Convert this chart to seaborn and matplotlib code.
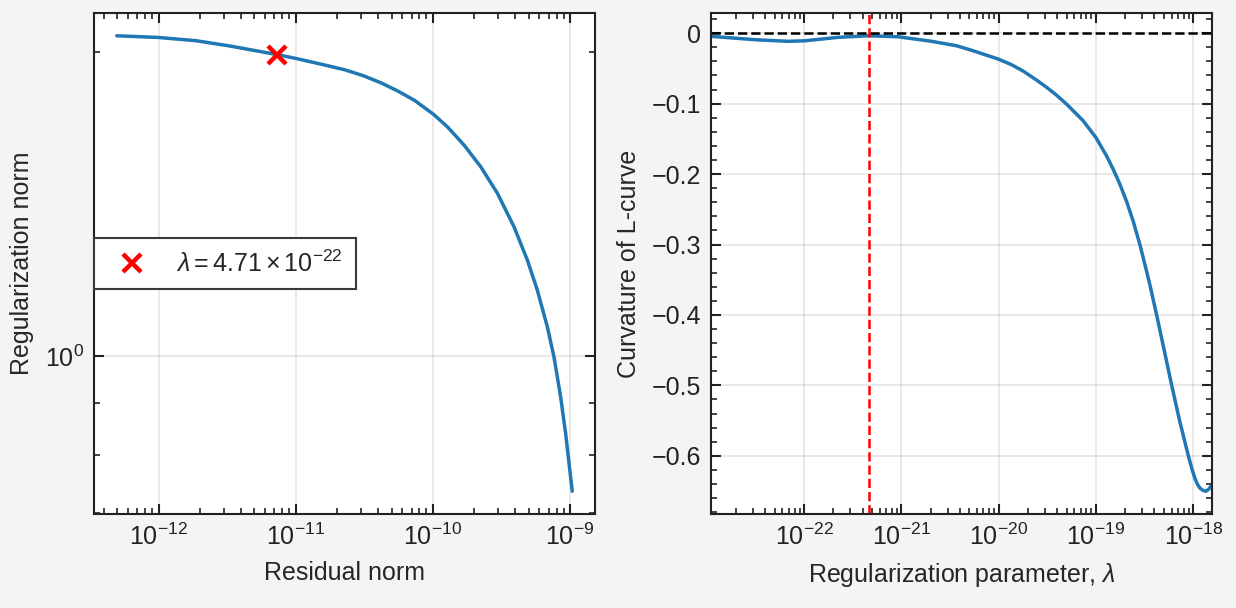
import numpy as np
import pandas as pd
import matplotlib
matplotlib.use("Agg")
import matplotlib.pyplot as plt
import matplotlib.ticker as mticker
from matplotlib.lines import Line2D
import seaborn as sns

# ---------------- data ----------------
residual_norm = [4.95e-13, 1.0e-12, 1.866e-12, 3.26e-12, 7.33e-12, 1.0e-11, 1.539e-11,
                 2.30e-11, 3.11e-11, 4.21e-11, 5.56e-11, 7.34e-11, 1.016e-10, 1.284e-10,
                 1.695e-10, 2.243e-10, 2.966e-10, 3.916e-10, 4.90e-10, 5.79e-10, 6.85e-10,
                 7.65e-10, 8.56e-10, 9.31e-10, 1.041e-9]
regularization_norm = [2.074, 2.066, 2.051, 2.027, 1.987, 1.970, 1.944,
                       1.919, 1.894, 1.863, 1.829, 1.791, 1.734, 1.685,
                       1.617, 1.539, 1.449, 1.343, 1.245, 1.163, 1.070,
                       1.0, 0.913, 0.840, 0.736]

opt_residual = [7.33e-12]
opt_reg_norm = [1.987]
opt_lambda = 4.71e-22
legend_label = r"$\lambda = 4.71 \times 10^{-22}$"

lam = [1.107e-23, 3.14e-23, 6.90e-23, 1.023e-22, 2.25e-22, 4.58e-22, 9.31e-22, 2.05e-21,
       3.71e-21, 5.48e-21, 9.91e-21, 1.361e-20, 1.79e-20, 2.46e-20, 3.12e-20, 3.94e-20,
       5.00e-20, 7.41e-20, 1.0e-19, 1.288e-19, 1.507e-19, 1.766e-19, 2.07e-19, 2.415e-19,
       2.83e-19, 3.32e-19, 3.59e-19, 4.21e-19, 4.92e-19, 6.00e-19, 7.29e-19, 8.20e-19,
       8.87e-19, 9.62e-19, 1.040e-18, 1.099e-18, 1.17e-18, 1.256e-18, 1.35e-18,
       1.425e-18, 1.55e-18]
curvature = [-0.0044, -0.0092, -0.0115, -0.0107, -0.0058, -0.0036, -0.005, -0.0115,
             -0.0178, -0.0249, -0.0366, -0.0447, -0.0537, -0.0665, -0.0768, -0.0878,
             -0.1006, -0.1243, -0.1479, -0.174, -0.1929, -0.2142, -0.2388, -0.2663,
             -0.2994, -0.3374, -0.3567, -0.3993, -0.4429, -0.4987, -0.5509, -0.5793,
             -0.5981, -0.6162, -0.6314, -0.6394, -0.6456, -0.6489, -0.6503,
             -0.6484, -0.642]

lam_decades = [1e-22, 1e-21, 1e-20, 1e-19, 1e-18]
res_decades = [1e-12, 1e-11, 1e-10, 1e-9]

# ---------------- style ----------------
sns.set_style("ticks")
plt.rcParams.update({
    "font.family": ["Liberation Sans", "DejaVu Sans"],
    "font.size": 9,
    "mathtext.fontset": "custom",
    "mathtext.rm": "Liberation Sans",
    "mathtext.it": "Liberation Sans:italic",
    "mathtext.bf": "Liberation Sans:bold",
    "axes.linewidth": 0.75,
    "axes.edgecolor": "#222222",
    "xtick.direction": "in", "ytick.direction": "in",
    "xtick.top": True, "ytick.right": True,
    "xtick.major.size": 3.7, "ytick.major.size": 3.7,
    "xtick.minor.size": 2.0, "ytick.minor.size": 2.0,
    "xtick.major.width": 0.75, "ytick.major.width": 0.75,
    "xtick.minor.width": 0.6, "ytick.minor.width": 0.6,
    "xtick.labelsize": 9, "ytick.labelsize": 9,
    "axes.labelsize": 9,
    "xtick.color": "#222222", "ytick.color": "#222222",
    "axes.unicode_minus": True,
})

BLUE = "#1f77b4"
fig = plt.figure(figsize=(6.18, 3.04), dpi=200, facecolor="#f4f4f4")
ax1 = fig.add_axes([94 / 1236, 1 - 514 / 608, (595 - 94) / 1236, (514 - 13) / 608])
ax2 = fig.add_axes([711 / 1236, 1 - 514 / 608, (1211.6 - 711) / 1236, (514 - 13) / 608])

for ax in (ax1, ax2):
    ax.set_facecolor("white")
    ax.grid(True, which="major", color="black", alpha=0.1, lw=0.6)
    ax.set_axisbelow(True)

# ---------------- left: L-curve ----------------
ax1.set_xscale("log")
ax1.set_yscale("log")
df1 = pd.DataFrame({"res": residual_norm, "reg": regularization_norm})
sns.lineplot(data=df1, x="res", y="reg", ax=ax1, color=BLUE, lw=1.25, sort=False)
ax1.plot(opt_residual, opt_reg_norm, ls="none", marker="x", color="red",
         ms=6.5, mew=1.6, zorder=5)
ax1.set_xlabel("Residual norm")
ax1.set_ylabel("Regularization norm")
ax1.xaxis.set_major_locator(mticker.FixedLocator(res_decades))
ax1.xaxis.set_major_formatter(mticker.LogFormatterSciNotation())
ax1.xaxis.set_minor_formatter(mticker.NullFormatter())
ax1.yaxis.set_minor_formatter(mticker.NullFormatter())
handle = Line2D([], [], ls="none", marker="x", color="red", ms=6.5, mew=1.6)
leg = ax1.legend([handle], [legend_label], loc="center left",
                 borderaxespad=0, borderpad=0.5, fancybox=False, framealpha=1,
                 edgecolor="#3a3a3a", fontsize=9)
leg.get_frame().set_linewidth(0.75)

# ---------------- right: curvature ----------------
ax2.set_xscale("log")
df2 = pd.DataFrame({"lam": lam, "curv": curvature})
sns.lineplot(data=df2, x="lam", y="curv", ax=ax2, color=BLUE, lw=1.25)
ax2.margins(x=0)
ax2.axhline(0, color="black", ls="--", lw=0.9)
ax2.axvline(opt_lambda, color="red", ls="--", lw=0.9)
ax2.xaxis.set_major_locator(mticker.FixedLocator(lam_decades))
ax2.xaxis.set_major_formatter(mticker.LogFormatterSciNotation())
ax2.xaxis.set_minor_formatter(mticker.NullFormatter())
ax2.yaxis.set_major_locator(mticker.MultipleLocator(0.1))
ax2.yaxis.set_minor_locator(mticker.MultipleLocator(0.02))
ax2.yaxis.set_major_formatter(mticker.FuncFormatter(
    lambda v, p: ("%g" % round(v, 6)).replace("-", "\u2212")))
ax2.set_xlabel(r"Regularization parameter, $\lambda$")
ax2.set_ylabel("Curvature of L-curve")

fig.savefig("out.png", dpi=200, facecolor=fig.get_facecolor())
